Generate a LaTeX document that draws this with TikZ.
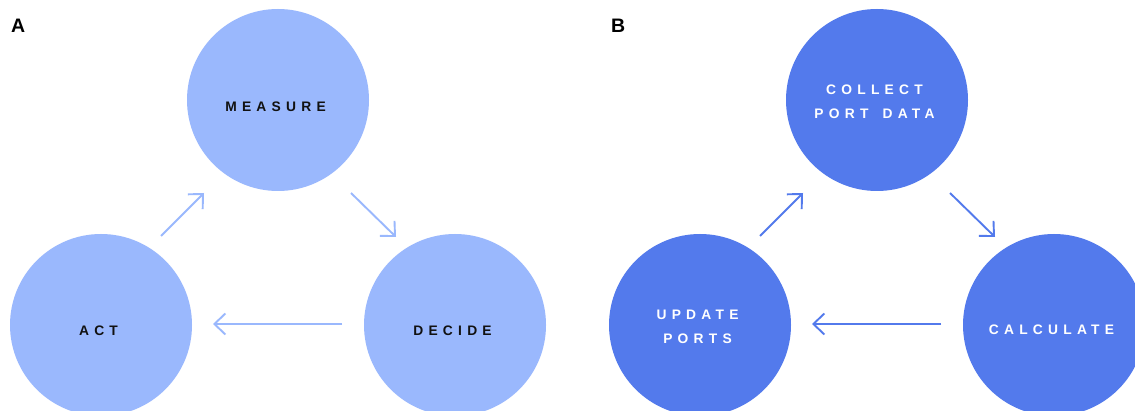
\documentclass[tikz,border=0pt]{standalone}
\usepackage{fontspec}
\setmainfont{Liberation Sans}
\usetikzlibrary{arrows.meta}
\definecolor{lightblue}{HTML}{9AB8FD}
\definecolor{darkblue}{HTML}{537AEC}
\definecolor{ink}{HTML}{111111}
\tikzset{
  stage/.style={circle, minimum size=182pt, inner sep=0pt, draw=none},
  stageA/.style={stage, fill=lightblue},
  stageB/.style={stage, fill=darkblue},
  lbl/.style={inner sep=0pt, align=center, font=\fontsize{13.8pt}{24pt}\selectfont\bfseries\addfontfeature{LetterSpace=38}},
  lblA/.style={lbl, text=ink},
  lblB/.style={lbl, text=white},
  flow/.style={line width=1.9pt, -{Straight Barb[length=11pt,width=21pt]}},
  flowA/.style={flow, draw=lightblue},
  flowB/.style={flow, draw=darkblue},
  panel/.style={font=\fontsize{19.5pt}{22pt}\selectfont\bfseries, inner sep=0pt, anchor=north west}
}
\begin{document}
\begin{tikzpicture}[x=1pt, y=-1pt]
\useasboundingbox (0,0) rectangle (1135,411);
\clip (0,0) rectangle (1135,411);
\fill[white] (0,0) rectangle (1135,411);
% panel labels
\node[panel] (labA) at (11,19) {A};
\node[panel] (labB) at (611,19) {B};
% panel A
\node[stageA] (measure) at (278,100) {};
\node[stageA] (act) at (101,325) {};
\node[stageA] (decide) at (455,325) {};
\node[lblA] (measuretxt) at (275.5,106.5) {MEASURE};
\node[lblA] (acttxt) at (98.5,330.5) {ACT};
\node[lblA] (decidetxt) at (452.5,330.5) {DECIDE};
\coordinate (a1s) at (161,236); \coordinate (a1e) at (204,193);
\coordinate (a2s) at (351,193); \coordinate (a2e) at (396,237);
\coordinate (a3s) at (342,324); \coordinate (a3e) at (213,324);
\draw[flowA] (a1s) -- (a1e);
\draw[flowA] (a2s) -- (a2e);
\draw[flowA] (a3s) -- (a3e);
% panel B
\node[stageB] (collect) at (877,100) {};
\node[stageB] (update) at (700,325) {};
\node[stageB] (calculate) at (1054,325) {};
\node[lblB] (collecttxt) at (874.5,102) {COLLECT\\PORT\hspace{5pt} DATA};
\node[lblB] (updatetxt) at (697.5,327) {UPDATE\\PORTS};
\node[lblB] (calculatetxt) at (1051.5,330) {CALCULATE};
\coordinate (b1s) at (760,236); \coordinate (b1e) at (803,193);
\coordinate (b2s) at (950,193); \coordinate (b2e) at (995,237);
\coordinate (b3s) at (941,324); \coordinate (b3e) at (812,324);
\draw[flowB] (b1s) -- (b1e);
\draw[flowB] (b2s) -- (b2e);
\draw[flowB] (b3s) -- (b3e);
\end{tikzpicture}
\end{document}
